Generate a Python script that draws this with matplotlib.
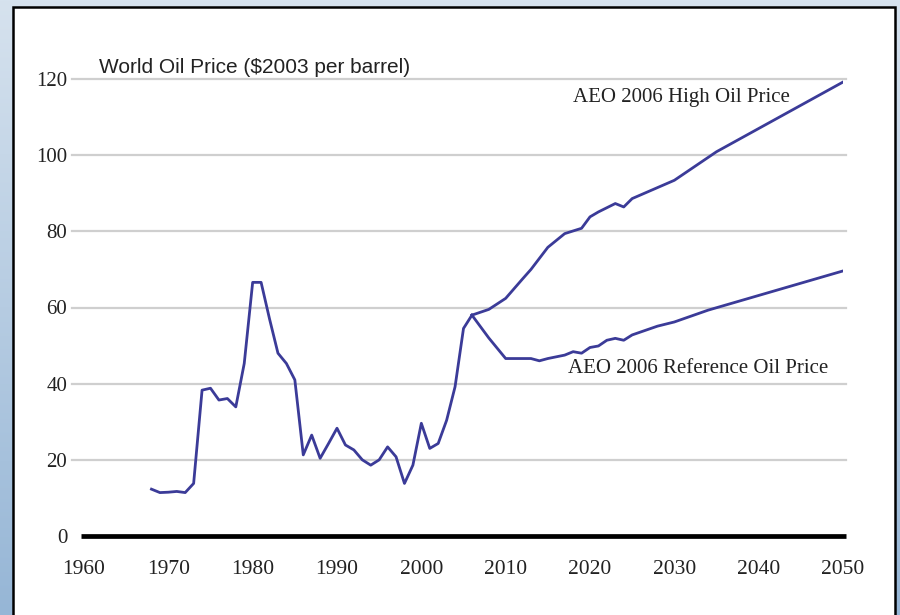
import numpy as np
import matplotlib.pyplot as plt
from matplotlib.patches import Rectangle

# historical world oil price, $2003 per barrel
hist_years = [1968, 1969, 1970, 1971, 1972, 1973, 1974, 1975, 1976, 1977,
              1978, 1979, 1980, 1981, 1982, 1983, 1984, 1985, 1986, 1987,
              1988, 1989, 1990, 1991, 1992, 1993, 1994, 1995, 1996, 1997,
              1998, 1999, 2000, 2001, 2002, 2003, 2004, 2005, 2006]
hist_price = [12.3, 11.4, 11.5, 11.7, 11.4, 13.8, 38.3, 38.8, 35.7, 36.1,
              33.9, 45.3, 66.6, 66.6, 57.0, 48.0, 45.3, 41.0, 21.3, 26.5,
              20.4, 24.3, 28.3, 23.9, 22.6, 20.0, 18.6, 20.0, 23.4, 20.8,
              13.8, 18.6, 29.6, 23.0, 24.3, 30.4, 39.2, 54.5, 58.0]

# AEO 2006 projections
high_years = [2006, 2008, 2010, 2012, 2013, 2015, 2017, 2019, 2020, 2021,
              2023, 2024, 2025, 2030, 2035, 2050]
high_price = [58.0, 59.5, 62.4, 67.5, 70.0, 75.8, 79.4, 80.8, 83.8, 85.1,
              87.3, 86.4, 88.6, 93.4, 100.9, 119.2]

ref_years = [2006, 2008, 2010, 2012, 2013, 2014, 2015, 2017, 2018, 2019,
             2020, 2021, 2022, 2023, 2024, 2025, 2028, 2030, 2034, 2050]
ref_price = [58.0, 52.0, 46.6, 46.6, 46.6, 46.0, 46.6, 47.5, 48.4, 48.0,
             49.5, 49.9, 51.4, 51.9, 51.4, 52.8, 55.1, 56.2, 59.3, 69.6]

y_ticks = [0, 20, 40, 60, 80, 100, 120]
x_ticks = [1960, 1970, 1980, 1990, 2000, 2010, 2020, 2030, 2040, 2050]

line_color = "#3b3b98"
text_color = "#222222"
serif = "Liberation Serif"

fig = plt.figure(figsize=(9.0, 6.15), dpi=100)

# blue gradient backdrop
bg = fig.add_axes([0, 0, 1, 1], zorder=-10)
grad = np.linspace(0, 1, 256).reshape(-1, 1)
top = np.array([214, 226, 238]) / 255
bottom = np.array([150, 182, 214]) / 255
img = top + grad[..., None] * (bottom - top)
bg.imshow(img, aspect="auto", extent=[0, 1, 0, 1])
bg.set_axis_off()

# white panel with black frame
fig.patches.append(Rectangle((13 / 900, -0.01), (895 - 13) / 900, 1 - 7 / 615 + 0.01,
                             transform=fig.transFigure, facecolor="white",
                             edgecolor="black", linewidth=1.8, zorder=-5))

ax = fig.add_axes([84 / 900, 1 - 536 / 615, (843 - 84) / 900, (536 - 79) / 615])
ax.set_facecolor("none")
ax.set_xlim(1960, 2050)
ax.set_ylim(0, 120)

for yv in y_ticks[1:]:
    ax.plot([1958.6, 2050.3], [yv, yv], color="#cfcfcf", linewidth=1.6,
            clip_on=False, zorder=1)
ax.plot([1959.6, 2050.3], [0, 0], color="black", linewidth=3.4,
        solid_capstyle="butt", clip_on=False, zorder=2)

ax.plot(hist_years, hist_price, color=line_color, linewidth=2.0, zorder=3)
ax.plot(high_years, high_price, color=line_color, linewidth=2.0, zorder=3)
ax.plot(ref_years, ref_price, color=line_color, linewidth=2.0, zorder=3)

ax.set_xticks(x_ticks)
ax.set_yticks(y_ticks)
ax.set_xticklabels([str(x) for x in x_ticks], fontfamily=serif, fontsize=15.5, color=text_color)
ax.set_yticklabels([str(y) for y in y_ticks], fontfamily=serif, fontsize=15, color=text_color)
ax.tick_params(axis="x", length=0, pad=17)
ax.tick_params(axis="y", length=0, pad=12)
for side in ["top", "right", "bottom", "left"]:
    ax.spines[side].set_visible(False)

ax.text(1961.8, 123.1, "World Oil Price ($2003 per barrel)", fontfamily="Liberation Sans",
        fontsize=15, color=text_color, va="center", ha="left")
ax.text(2043.7, 115.2, "AEO 2006 High Oil Price", fontfamily=serif, fontsize=15,
        color=text_color, va="center", ha="right")
ax.text(2048.2, 44.1, "AEO 2006 Reference Oil Price", fontfamily=serif, fontsize=15,
        color=text_color, va="center", ha="right")

fig.savefig("out.png", dpi=100)
